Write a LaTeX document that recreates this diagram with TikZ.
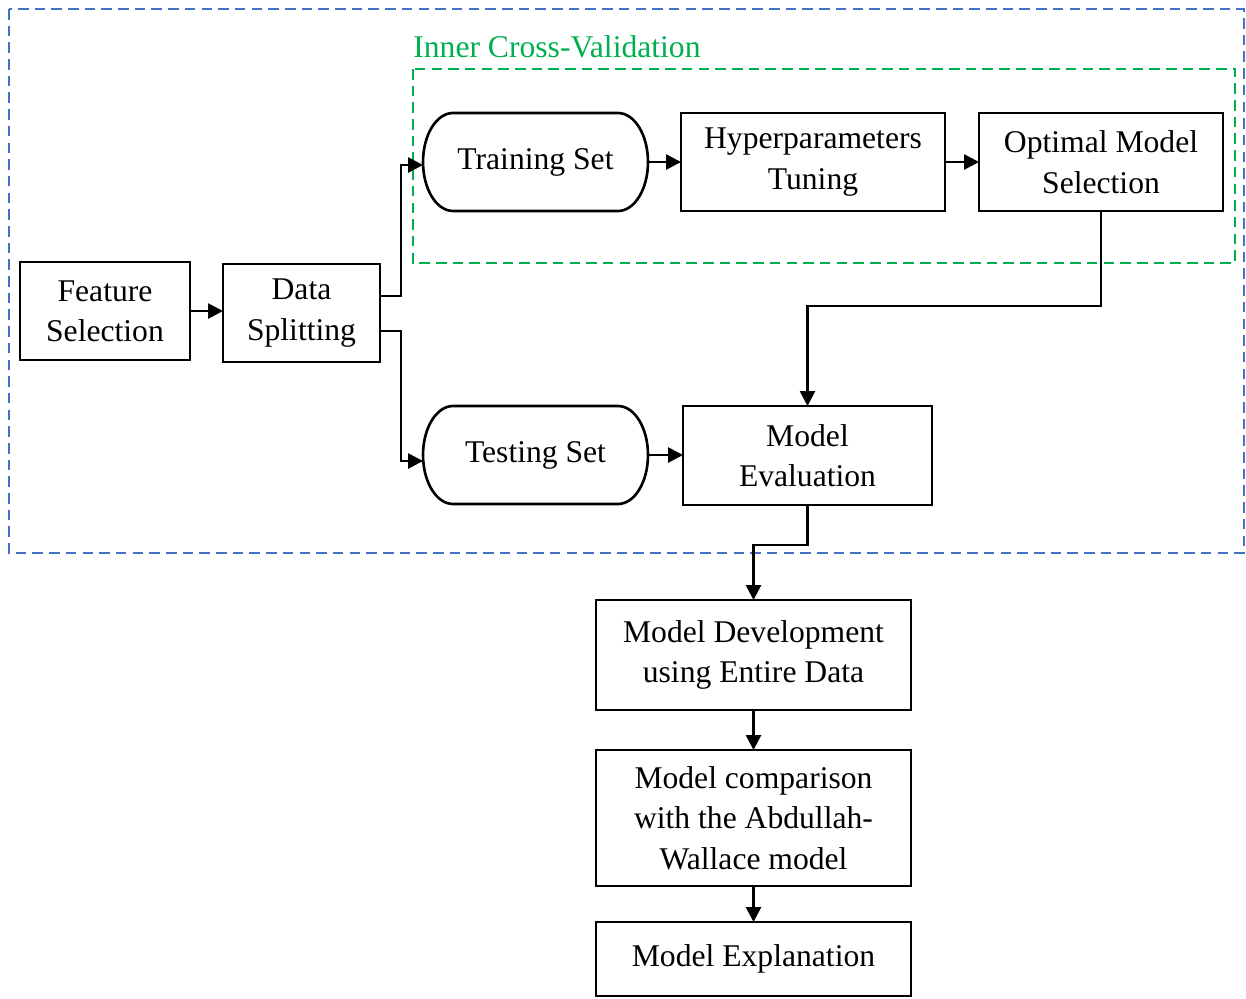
\documentclass[tikz,border=0pt]{standalone}
\usepackage{fontspec}
\setmainfont{Liberation Serif}
\usetikzlibrary{arrows.meta}
\definecolor{cvgreen}{RGB}{0,176,80}
\definecolor{outerblue}{RGB}{68,114,196}
\newcommand\stadiumpath[1]{%
  \draw[line width=1.5pt] ([xshift=0.6cm]#1.north west) -- ([xshift=-0.6cm]#1.north east)
    arc[start angle=90,end angle=-90,x radius=0.6cm,y radius=0.98cm]
    -- ([xshift=0.6cm]#1.south west)
    arc[start angle=270,end angle=90,x radius=0.6cm,y radius=0.98cm] -- cycle;}
\tikzset{
  txt/.style={font=\fontsize{18}{23}\selectfont, align=center},
  boxnode/.style={txt, draw, line width=1.5pt, inner sep=0pt, outer sep=0pt},
  stadnode/.style={txt, inner sep=0pt, outer sep=0pt},
  arr/.style={line width=1.5pt, -{Triangle[length=8.5pt,width=8.5pt]}},
  groupbox/.style={line width=1.4pt, dash pattern=on 6pt off 3.5pt}
}
\begin{document}
\begin{tikzpicture}[x=0.02cm,y=-0.02cm]
\useasboundingbox (0,0) rectangle (1246,998);
% group frames
\draw[groupbox, outerblue] (9,9) rectangle (1244,553);
\draw[groupbox, cvgreen] (413,69) rectangle (1235,263);
\node[txt, text=cvgreen, anchor=west, inner sep=0pt] (cvlabel) at (413,47) {Inner Cross-Validation};
% nodes
\node[boxnode, minimum width=3.4cm, minimum height=1.96cm] (FS) at (105,311) {Feature\\Selection};
\node[boxnode, minimum width=3.14cm, minimum height=1.96cm] (DS) at (301.5,313) {Data\\Splitting};
\node[stadnode, minimum width=4.5cm, minimum height=1.96cm] (Train) at (535.5,162) {Training Set};
\stadiumpath{Train}
\node[boxnode, minimum width=5.28cm, minimum height=1.96cm] (Hyper) at (813,162) {Hyperparameters\\Tuning};
\node[boxnode, minimum width=4.88cm, minimum height=1.96cm] (Opt) at (1101,162) {Optimal Model\\Selection};
\node[stadnode, minimum width=4.5cm, minimum height=1.96cm] (Test) at (535.5,455) {Testing Set};
\stadiumpath{Test}
\node[boxnode, minimum width=4.98cm, minimum height=1.98cm] (Eval) at (807.5,455.5) {Model\\Evaluation};
\node[boxnode, minimum width=6.3cm, minimum height=2.2cm] (Dev) at (753.5,655) {Model Development\\using Entire Data};
\node[boxnode, minimum width=6.3cm, minimum height=2.72cm] (Comp) at (753.5,818) {Model comparison\\with the Abdullah-\\Wallace model};
\node[boxnode, minimum width=6.3cm, minimum height=1.48cm] (Expl) at (753.5,959) {Model Explanation};
% connectors
\draw[arr] (FS.east) -- (FS.east -| DS.west);
\draw[arr] ([yshift=0.34cm]DS.east) -- ++(21,0) |- ([yshift=-0.06cm]Train.west);
\draw[arr] ([yshift=-0.36cm]DS.east) -- ++(21,0) |- ([yshift=-0.12cm]Test.west);
\draw[arr] (Train.east) -- (Hyper.west);
\draw[arr] (Hyper.east) -- (Opt.west);
\draw[arr] (Opt.south) -- ++(0,95) -| (Eval.north);
\draw[arr] (Test.east) -- (Test.east -| Eval.west);
\draw[arr] (Eval.south) -- ++(0,40) -| (Dev.north);
\draw[arr] (Dev.south) -- (Comp.north);
\draw[arr] (Comp.south) -- (Expl.north);
\end{tikzpicture}
\end{document}
